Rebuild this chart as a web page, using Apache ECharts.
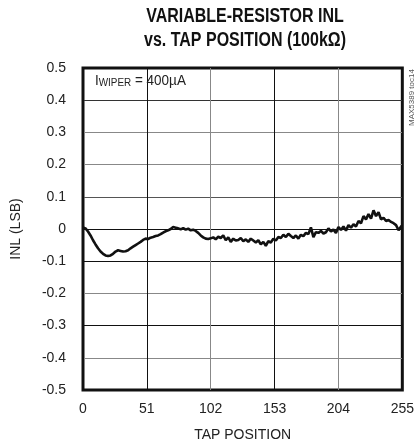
<!DOCTYPE html>
<html><head><meta charset="utf-8">
<script src="https://cdn.jsdelivr.net/npm/echarts@6/dist/echarts.min.js"></script>
<style>html,body{margin:0;padding:0;background:#fff}#c{width:417px;height:448px}</style>
</head><body><div id="c"></div>
<script>
const titleLines = ['VARIABLE-RESISTOR INL', 'vs. TAP POSITION (100kΩ)'];
const xTicks = [0, 51, 102, 153, 204, 255];
const yTicks = [-0.5, -0.4, -0.3, -0.2, -0.1, 0, 0.1, 0.2, 0.3, 0.4, 0.5];
const taps = [0,2,4,6,8,10,12,14,16,18,20,22,24,26,28,30,32,34,36,38,40,42,44,46,48,50,52,54,56,58,60,62,64,66,68,70,72,74,76,78,80,82,84,86,88,90,92,94,96,98,100,102,104,106,108,110,112,114,116,118,120,122,124,126,128,130,132,134,136,138,140,142,144,146,148,150,152,154,156,158,160,162,164,166,168,170,172,174,176,178,180,182,184,186,188,190,192,194,196,198,200,202,204,206,208,210,212,214,216,218,220,222,224,226,228,230,232,234,236,238,240,242,244,246,248,250,252,254,255];
const inl = [0.005,0.002,-0.008,-0.02,-0.035,-0.048,-0.06,-0.07,-0.077,-0.082,-0.084,-0.082,-0.077,-0.07,-0.066,-0.068,-0.07,-0.069,-0.066,-0.06,-0.055,-0.05,-0.045,-0.04,-0.034,-0.03,-0.031,-0.027,-0.025,-0.022,-0.02,-0.016,-0.011,-0.007,-0.004,0.0,0.006,0.004,0.002,-0.001,0.003,-0.002,0.001,-0.004,-0.002,-0.006,-0.012,-0.02,-0.026,-0.03,-0.031,-0.029,-0.026,-0.032,-0.024,-0.028,-0.02,-0.035,-0.026,-0.04,-0.03,-0.036,-0.034,-0.028,-0.038,-0.032,-0.04,-0.03,-0.036,-0.042,-0.035,-0.048,-0.04,-0.052,-0.038,-0.042,-0.03,-0.036,-0.025,-0.028,-0.018,-0.025,-0.015,-0.022,-0.028,-0.02,-0.03,-0.018,-0.022,-0.012,-0.016,0.005,-0.025,-0.01,-0.012,-0.006,-0.014,-0.01,0.002,-0.008,-0.002,-0.012,0.006,-0.003,0.008,-0.005,0.012,0.004,0.015,0.008,0.025,0.018,0.04,0.03,0.046,0.032,0.058,0.04,0.052,0.03,0.035,0.025,0.028,0.022,0.018,0.012,-0.004,0.008,0.01];

const chart = echarts.init(document.getElementById('c'), null, {renderer: 'canvas'});
const FONT = "'Liberation Sans', Arial, sans-serif";
chart.setOption({
  animation: false,
  backgroundColor: '#fff',
  grid: {left: 83, right: 11, top: 68, bottom: 58, show: true, borderColor: '#111', borderWidth: 3, backgroundColor: 'transparent'},
  graphic: [
    {type: 'text', x: 245, y: 6, scaleX: 0.8, style: {text: titleLines[0], align: 'center', font: "bold 20px " + FONT, fill: '#111'}, z: 10},
    {type: 'text', x: 245, y: 30, scaleX: 0.8, style: {text: titleLines[1], align: 'center', font: "bold 20px " + FONT, fill: '#111'}, z: 10},
    {type: 'text', x: 95, y: 73, scaleX: 0.9, style: {
      text: '{a|I}{b|WIPER}{a| = 400µA}',
      rich: {a: {fontSize: 15, fontFamily: FONT, fill: '#222', verticalAlign: 'bottom'}, b: {fontSize: 11, fontFamily: FONT, fill: '#222', verticalAlign: 'bottom'}},
      fill: '#222'
    }, z: 10},
    {type: 'text', x: 408, y: 126, rotation: Math.PI / 2, style: {text: 'MAX5389 toc14', font: "8px " + FONT, fill: '#555', verticalAlign: 'top'}, z: 10}
  ],
  xAxis: {
    type: 'value', min: xTicks[0], max: xTicks[xTicks.length - 1], interval: 51,
    name: 'TAP POSITION', nameLocation: 'middle', nameGap: 38,
    nameTextStyle: {fontFamily: FONT, fontSize: 14, color: '#222'},
    axisLine: {show: false}, axisTick: {show: false},
    axisLabel: {fontFamily: FONT, fontSize: 14, color: '#222', margin: 12},
    splitLine: {show: true, lineStyle: {color: ['#111', '#111', '#888', '#111', '#888', '#111'], width: 1}}
  },
  yAxis: {
    type: 'value', min: yTicks[0], max: yTicks[yTicks.length - 1], interval: 0.1,
    name: 'INL (LSB)', nameLocation: 'middle', nameGap: 60, nameRotate: 90,
    nameTextStyle: {fontFamily: FONT, fontSize: 14, color: '#222'},
    axisLine: {show: false}, axisTick: {show: false},
    axisLabel: {fontFamily: FONT, fontSize: 14, color: '#222', margin: 17,
      formatter: v => String(Math.round(v * 10) / 10)},
    splitLine: {show: true, lineStyle: {color: ['#111', '#888', '#111', '#888', '#111', '#111', '#555', '#888', '#888', '#333', '#111'], width: 1}}
  },
  series: [{
    type: 'line', data: taps.map((t, i) => [t, inl[i]]), showSymbol: false, symbol: 'none',
    lineStyle: {color: '#111', width: 2.6}, smooth: false, z: 5
  }]
});
</script></body></html>
